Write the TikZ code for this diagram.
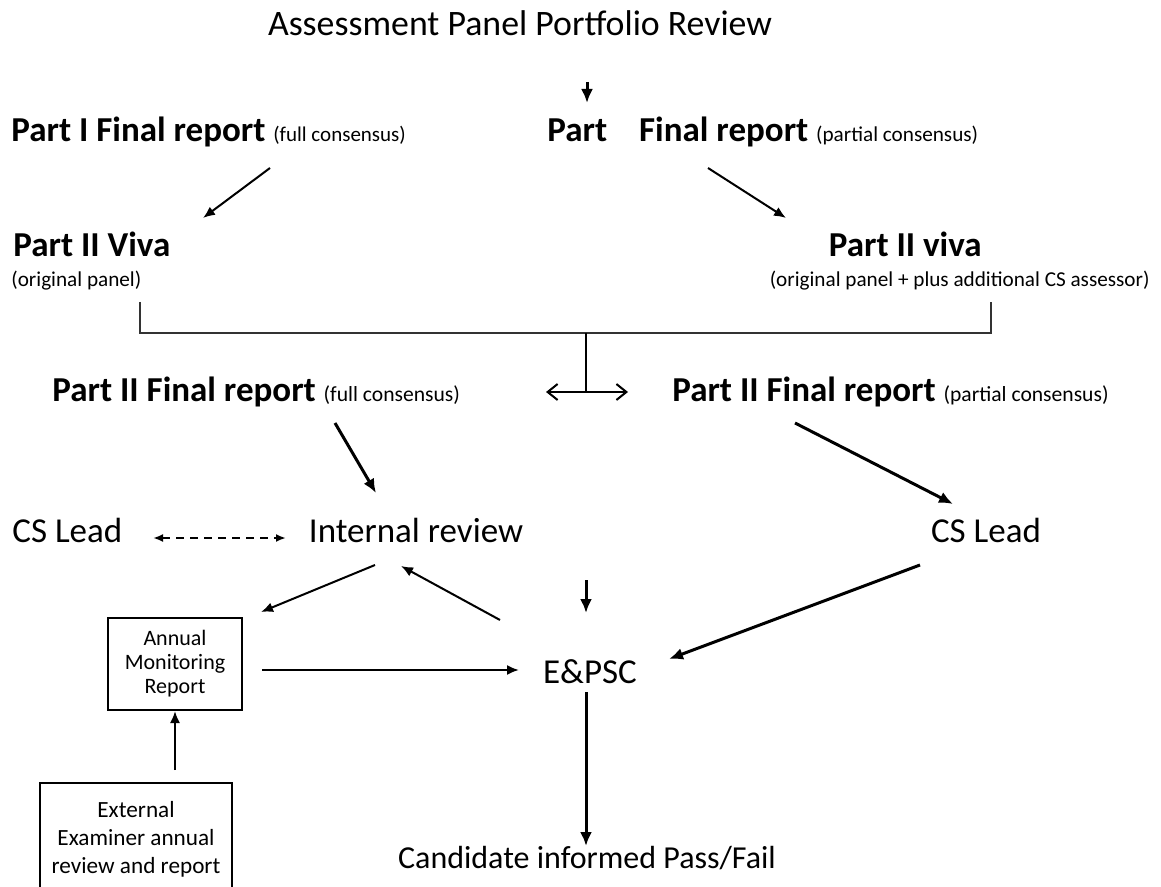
\documentclass[tikz,border=0pt]{standalone}
\usepackage{fontspec}
\setmainfont{Carlito}
\usetikzlibrary{arrows.meta}
\begin{document}
\begin{tikzpicture}[x=0.5pt,y=-0.5pt,
  lbl/.style={inner sep=0pt, font=\fontsize{17.5}{20}\selectfont},
  sm/.style={font=\fontsize{10.6}{12}\selectfont},
  boxnode/.style={draw, line width=0.9pt, align=center, inner sep=0pt},
  thinarr/.style={line width=1pt, -{Latex[length=6pt,width=5pt]}},
  thickarr/.style={line width=1.5pt, -{Latex[length=7pt,width=6pt]}},
  bracket/.style={line width=1pt, draw=black!80}
]
\useasboundingbox (0,0) rectangle (1161,887);

% nodes
\node[lbl, font=\fontsize{17.9}{20}\selectfont] (title) at (520,23) {Assessment Panel Portfolio Review};
\node[lbl, anchor=west] (p1full) at (11,132) {\textbf{Part I Final report} {\fontsize{10.5}{12}\selectfont (full consensus)}};
\node[lbl, anchor=west] (p1part) at (547,132) {\textbf{Part}\hspace{16pt}\textbf{Final report} {\fontsize{10.6}{12}\selectfont (partial consensus)}};
\node[lbl, anchor=west] (vivaL) at (13,244) {\textbf{Part II Viva}};
\node[inner sep=0pt, sm, anchor=west] (origL) at (11,281) {(original panel)};
\node[lbl, anchor=east] (vivaR) at (982,244) {\textbf{Part II viva}};
\node[inner sep=0pt, sm, anchor=east] (origR) at (1150,281) {(original panel + plus additional CS assessor)};
\node[lbl, anchor=west] (p2full) at (52,392) {\textbf{Part II Final report} {\fontsize{10.8}{12}\selectfont (full consensus)}};
\node[lbl, anchor=east] (p2part) at (1109,392) {\textbf{Part II Final report} {\fontsize{10.8}{12}\selectfont (partial consensus)}};
\node[lbl, anchor=west] (csL) at (12,530) {CS Lead};
\node[lbl] (intrev) at (416,530) {Internal review};
\node[lbl] (csR) at (986,530) {CS Lead};
\node[lbl] (epsc) at (590,672) {E\&PSC};
\node[lbl, font=\fontsize{16}{19}\selectfont] (cand) at (587,858) {Candidate informed Pass/Fail};
\node[boxnode, minimum width=67pt, minimum height=46pt, font=\fontsize{11}{12}\selectfont] (amr) at (175,664) {Annual\\Monitoring\\Report};
\node[boxnode, anchor=north, minimum width=96pt, minimum height=56pt, font=\fontsize{11.6}{14}\selectfont] (ext) at (136,782) {External\\Examiner annual\\review and report};

% connector coordinates
\coordinate (a1s) at (587,82);   \coordinate (a1e) at (587,103);
\coordinate (a2s) at (270,168);  \coordinate (a2e) at (203,218);
\coordinate (a3s) at (708,168);  \coordinate (a3e) at (786,218);
\coordinate (bL) at (140,302);   \coordinate (bR) at (991,302);
\coordinate (bLb) at (140,333);  \coordinate (bRb) at (991,333);
\coordinate (bM) at (586,333);   \coordinate (bMb) at (586,392);
\coordinate (dL) at (546,392);   \coordinate (dR) at (628,392);
\coordinate (a4s) at (335,423);  \coordinate (a4e) at (376,493);
\coordinate (a5s) at (795,423);  \coordinate (a5e) at (953,504);
\coordinate (dsL) at (153,538);  \coordinate (dsR) at (286,538);
\coordinate (a6s) at (586,580);  \coordinate (a6e) at (586,613);
\coordinate (a7s) at (375,565);  \coordinate (a7e) at (261,612);
\coordinate (a8s) at (500,620);  \coordinate (a8e) at (401,566);
\coordinate (a9s) at (262,670);  \coordinate (a9e) at (519,670);
\coordinate (a10s) at (920,565); \coordinate (a10e) at (669,659);
\coordinate (a11s) at (586,692); \coordinate (a11e) at (586,846);
\coordinate (a12s) at (175,770); \coordinate (a12e) at (175,711);

% connectors
\draw[thickarr] (a1s) -- (a1e);
\draw[thinarr] (a2s) -- (a2e);
\draw[thinarr] (a3s) -- (a3e);
\draw[bracket] (bL) -- (bLb) -- (bRb) -- (bR);
\draw[line width=0.8pt] (bM) -- (bMb);
\draw[line width=1pt, {Straight Barb[length=5pt,width=8pt]}-{Straight Barb[length=5pt,width=8pt]}] (dL) -- (dR);
\draw[thickarr] (a4s) -- (a4e);
\draw[thickarr] (a5s) -- (a5e);
\draw[line width=1pt, dashed, dash pattern=on 4pt off 3pt, {Latex[length=5pt,width=4pt]}-{Latex[length=5pt,width=4pt]}] (dsL) -- (dsR);
\draw[thickarr] (a6s) -- (a6e);
\draw[thinarr] (a7s) -- (a7e);
\draw[thinarr] (a8s) -- (a8e);
\draw[thinarr] (a9s) -- (a9e);
\draw[thickarr] (a10s) -- (a10e);
\draw[thickarr] (a11s) -- (a11e);
\draw[thinarr] (a12s) -- (a12e);
\end{tikzpicture}
\end{document}
